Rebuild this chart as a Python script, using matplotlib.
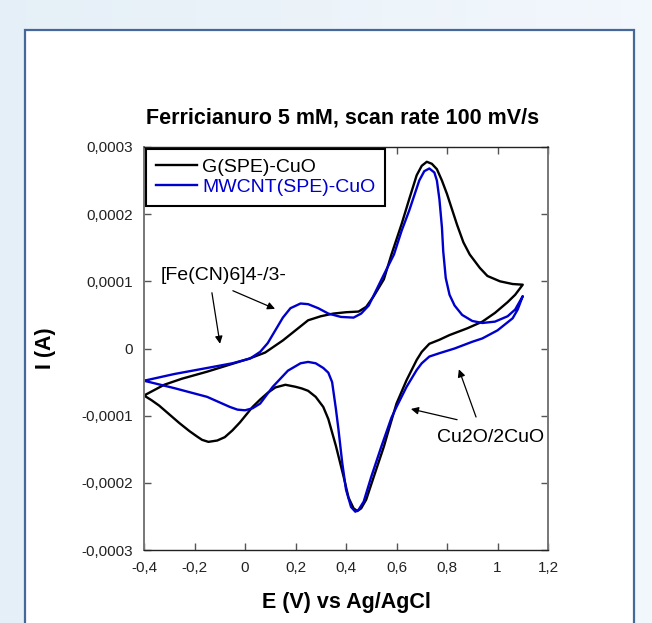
import numpy as np
import matplotlib
matplotlib.use('Agg')
import matplotlib.pyplot as plt
from matplotlib.patches import Rectangle

plt.rcParams['font.family'] = ['Liberation Sans', 'DejaVu Sans']

# current values are in units of 1e-4 A
black_e = [-0.40, -0.36, -0.32, -0.25, -0.15, -0.06, 0.02, 0.08, 0.15, 0.20,
           0.25, 0.30, 0.35, 0.40, 0.45, 0.48, 0.51, 0.55, 0.58, 0.62,
           0.65, 0.68, 0.70, 0.72, 0.74, 0.76, 0.78, 0.80, 0.84, 0.865,
           0.89, 0.93, 0.96, 1.01, 1.06, 1.10,
           1.07, 1.04, 0.99, 0.94, 0.88, 0.81, 0.77, 0.73, 0.70, 0.68,
           0.64, 0.60, 0.57, 0.55, 0.51, 0.48, 0.46, 0.445, 0.43, 0.41,
           0.39, 0.36, 0.33, 0.31, 0.28, 0.25, 0.225, 0.20, 0.16, 0.12,
           0.09, 0.06, 0.03, -0.02, -0.05, -0.08, -0.11, -0.145, -0.17, -0.19,
           -0.22, -0.26, -0.30, -0.34, -0.37, -0.40]
black_i = [-0.70, -0.62, -0.54, -0.45, -0.345, -0.24, -0.146, -0.06, 0.12, 0.27,
           0.42, 0.48, 0.52, 0.54, 0.55, 0.62, 0.78, 1.03, 1.40, 1.85,
           2.22, 2.58, 2.72, 2.78, 2.75, 2.67, 2.50, 2.30, 1.84, 1.58,
           1.40, 1.20, 1.08, 1.00, 0.96, 0.95,
           0.80, 0.69, 0.53, 0.40, 0.30, 0.20, 0.13, 0.07, -0.05, -0.17,
           -0.47, -0.82, -1.20, -1.46, -1.91, -2.25, -2.38, -2.42, -2.38, -2.22,
           -1.90, -1.45, -1.05, -0.87, -0.72, -0.63, -0.595, -0.57, -0.54, -0.58,
           -0.66, -0.76, -0.87, -1.10, -1.22, -1.32, -1.37, -1.39, -1.36, -1.31,
           -1.23, -1.11, -0.98, -0.85, -0.77, -0.70]

blue_e = [-0.40, -0.34, -0.28, -0.15, -0.05, 0.02, 0.06, 0.09, 0.12, 0.15,
          0.18, 0.22, 0.25, 0.29, 0.33, 0.38, 0.43, 0.46, 0.49, 0.52,
          0.55, 0.59, 0.62, 0.65, 0.69, 0.71, 0.73, 0.75, 0.76, 0.77,
          0.78, 0.785, 0.795, 0.81, 0.83, 0.86, 0.90, 0.94, 0.99, 1.04,
          1.07, 1.10,
          1.08, 1.06, 1.00, 0.94, 0.90, 0.83, 0.77, 0.73, 0.70, 0.68,
          0.64, 0.60, 0.58, 0.54, 0.50, 0.47, 0.45, 0.437, 0.42, 0.40,
          0.385, 0.37, 0.36, 0.345, 0.33, 0.31, 0.28, 0.25, 0.22, 0.17,
          0.11, 0.06, 0.03, 0.00, -0.03, -0.06, -0.15, -0.28, -0.40]
blue_i = [-0.48, -0.43, -0.38, -0.29, -0.22, -0.15, -0.05, 0.08, 0.27, 0.46,
          0.60, 0.67, 0.66, 0.60, 0.52, 0.47, 0.46, 0.52, 0.64, 0.87,
          1.10, 1.40, 1.75, 2.05, 2.50, 2.64, 2.68, 2.62, 2.50, 2.22,
          1.80, 1.45, 1.05, 0.80, 0.64, 0.50, 0.41, 0.38, 0.40, 0.48,
          0.58, 0.78,
          0.58, 0.45, 0.27, 0.15, 0.10, 0.00, -0.07, -0.12, -0.22, -0.32,
          -0.57, -0.87, -1.03, -1.46, -1.91, -2.28, -2.40, -2.43, -2.36, -2.10,
          -1.70, -1.20, -0.90, -0.50, -0.36, -0.29, -0.22, -0.20, -0.22, -0.33,
          -0.57, -0.82, -0.89, -0.92, -0.91, -0.87, -0.72, -0.59, -0.48]

series_labels = ['G(SPE)-CuO', 'MWCNT(SPE)-CuO']
series_colors = ['black', '#0000cc']

xticks = [-0.4, -0.2, 0.0, 0.2, 0.4, 0.6, 0.8, 1.0, 1.2]
xtick_labels = ['-0,4', '-0,2', '0', '0,2', '0,4', '0,6', '0,8', '1', '1,2']
yticks = [-0.0003, -0.0002, -0.0001, 0.0, 0.0001, 0.0002, 0.0003]
ytick_labels = ['-0,0003', '-0,0002', '-0,0001', '0', '0,0001', '0,0002', '0,0003']

W, H = 652, 623
fig = plt.figure(figsize=(W / 100, H / 100), dpi=100)

# light blue gradient background
bg = fig.add_axes([0, 0, 1, 1], zorder=-10)
grad = np.linspace(0, 1, 256)[None, :, None]
c0 = np.array([0.90, 0.94, 0.97])
c1 = np.array([0.95, 0.97, 0.99])
bg.imshow(c0 + (c1 - c0) * grad, aspect='auto', extent=[0, 1, 0, 1])
bg.set_xlim(0, 1)
bg.set_ylim(0, 1)
bg.axis('off')
bg.add_patch(Rectangle((25 / W, -0.05), 609 / W, 1.05 - 30 / H,
                       facecolor='white', edgecolor='#46679a', lw=1.6))

ax = fig.add_axes([144 / W, 1 - 550 / H, 404 / W, 403 / H])
ax.set_facecolor('none')

ax.plot(black_e, np.array(black_i) * 1e-4, color=series_colors[0], lw=1.7,
        label=series_labels[0], solid_joinstyle='round')
ax.plot(blue_e, np.array(blue_i) * 1e-4, color=series_colors[1], lw=1.7,
        label=series_labels[1], solid_joinstyle='round')

ax.set_xlim(-0.4, 1.2)
ax.set_ylim(-0.0003, 0.0003)
ax.set_xticks(xticks)
ax.set_xticklabels(xtick_labels)
ax.set_yticks(yticks)
ax.set_yticklabels(ytick_labels)
ax.tick_params(direction='in', length=5, width=1, top=True, right=True,
               labelsize=11, colors='#555555', labelcolor='#222222', pad=8)
for side in ['left', 'right']:
    ax.spines[side].set_color('#777777')
    ax.spines[side].set_linewidth(1.4)
for side in ['top', 'bottom']:
    ax.spines[side].set_color('#222222')
    ax.spines[side].set_linewidth(1.0)

ax.set_xlabel('E (V) vs Ag/AgCl', fontsize=15.5, fontweight='bold', labelpad=12)
ax.set_ylabel('I (A)', fontsize=15.5, fontweight='bold', labelpad=18)
fig.text(343 / W, 1 - 118 / H, 'Ferricianuro 5 mM, scan rate 100 mV/s',
         fontsize=15.5, fontweight='bold', ha='center', va='center')

leg = ax.legend(loc='upper left', bbox_to_anchor=(0, 1), borderaxespad=0.1,
                fancybox=False, framealpha=1, edgecolor='black', fontsize=14,
                handlelength=2.1, handletextpad=0.3, labelspacing=0.12,
                borderpad=0.5, labelcolor=series_colors)
leg.get_frame().set_linewidth(1.5)

arrow = dict(arrowstyle='-|>', color='black', lw=0.9,
             shrinkA=0, shrinkB=0, mutation_scale=11)
ax.text(-0.333, 1.09e-4, '[Fe(CN)6]4-/3-', fontsize=14, va='center', ha='left')
ax.annotate('', xy=(-0.099, 0.07e-4), xytext=(-0.131, 0.83e-4), arrowprops=arrow)
ax.annotate('', xy=(0.119, 0.59e-4), xytext=(-0.048, 0.86e-4), arrowprops=arrow)
ax.text(0.760, -1.32e-4, 'Cu2O/2CuO', fontsize=14, va='center', ha='left')
ax.annotate('', xy=(0.657, -0.90e-4), xytext=(0.840, -1.06e-4), arrowprops=arrow)
ax.annotate('', xy=(0.847, -0.31e-4), xytext=(0.915, -1.02e-4), arrowprops=arrow)

fig.savefig('out.png', dpi=100)
